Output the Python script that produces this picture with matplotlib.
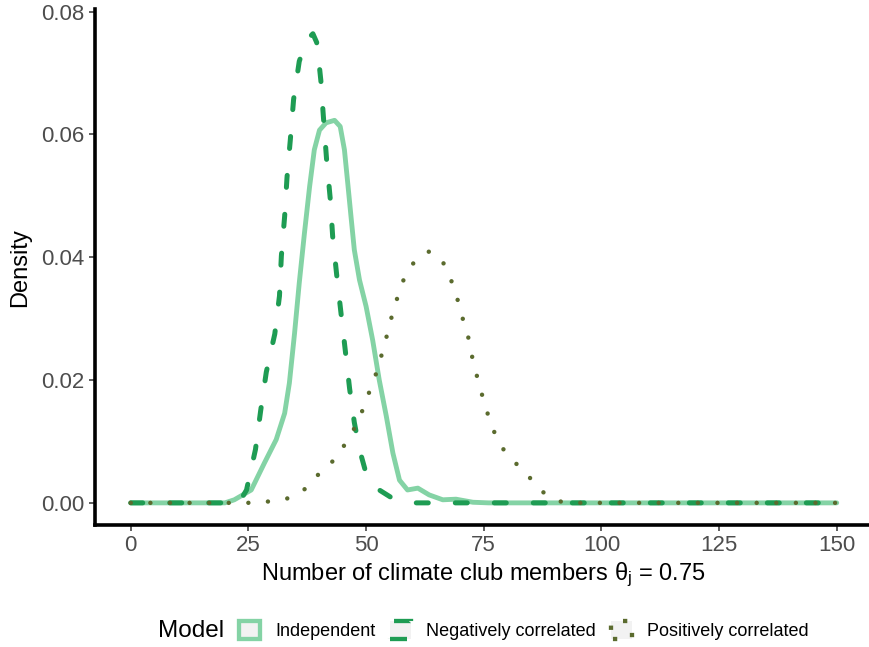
import matplotlib
matplotlib.use("Agg")
import matplotlib.pyplot as plt
from matplotlib.patches import Patch

plt.rcParams['font.family'] = ['Liberation Sans', 'DejaVu Sans']
plt.rcParams['mathtext.fontset'] = 'custom'
plt.rcParams['mathtext.rm'] = 'Liberation Sans'
plt.rcParams['mathtext.it'] = 'Liberation Sans:italic'

# density curves
ind_x = [0, 20, 22.0, 25.6, 28.4, 30.9, 32.7, 33.7, 34.8, 35.8, 36.9, 38.0, 39.0, 40.1,
         41.5, 43.3, 44.5, 45.4, 46.1, 46.8, 47.5, 48.6, 50.0, 51.4, 52.8, 54.3, 55.7,
         57.1, 58.8, 61.0, 63.4, 66.3, 69.1, 72.7, 76, 150]
ind_y = [0, 0, 0.0005, 0.0021, 0.0065, 0.0103, 0.0146, 0.0195, 0.0276, 0.0358, 0.0439,
         0.0515, 0.0575, 0.0607, 0.0619, 0.0623, 0.0613, 0.0575, 0.0521, 0.0466, 0.0412,
         0.0363, 0.032, 0.0265, 0.02, 0.0141, 0.0081, 0.0037, 0.0021, 0.0024, 0.0013,
         0.0005, 0.0006, 0.0001, 0, 0]

neg_x = [0, 23, 24.6, 26.5, 27.6, 28.8, 30.6, 31.6, 32.0, 32.7, 33.2, 33.9, 34.6, 35.8,
         37.3, 38.7, 39.5, 40.1, 40.4, 40.9, 41.6, 42.4, 42.9, 43.8, 44.7, 45.6, 46.5,
         47.5, 48.6, 50.0, 52.8, 55.7, 60.6, 150]
neg_y = [0, 0, 0.0021, 0.0087, 0.015, 0.0213, 0.0275, 0.0337, 0.0402, 0.0467, 0.053,
         0.0591, 0.0657, 0.0719, 0.0753, 0.0764, 0.075, 0.0709, 0.0687, 0.0632, 0.056,
         0.0494, 0.0434, 0.0368, 0.0307, 0.0247, 0.0186, 0.0131, 0.0087, 0.0048, 0.0021,
         0.0007, 0, 0]

pos_x = [0, 22, 24.8, 29.0, 33.2, 36.9, 39.7, 42.8, 45.3, 47.4, 49.2, 50.6, 52.1, 53.3,
         54.4, 55.4, 56.6, 58.0, 60.1, 63.5, 66.4, 68.1, 69.4, 70.5, 71.7, 72.5, 73.5,
         74.6, 75.8, 77.2, 79.2, 82.0, 84.9, 87.7, 91.4, 95, 150]
pos_y = [0, 0, 0, 0.0002, 0.0007, 0.0022, 0.0045, 0.0067, 0.0093, 0.012, 0.015, 0.0179,
         0.021, 0.0241, 0.0272, 0.0302, 0.0333, 0.0364, 0.0391, 0.041, 0.0391, 0.0362,
         0.0332, 0.0301, 0.027, 0.0239, 0.0208, 0.0177, 0.0146, 0.0116, 0.0087, 0.0063,
         0.004, 0.0017, 0.0002, 0, 0]

labels = ['Independent', 'Negatively correlated', 'Positively correlated']
cols = ['#84D3A5', '#1E9C53', '#5B6B2E']

xticks = [0, 25, 50, 75, 100, 125, 150]
yticks = [0.00, 0.02, 0.04, 0.06, 0.08]

fig = plt.figure(figsize=(8.69, 6.47), dpi=100)
ax = fig.add_axes([0.1093, 0.1886, 0.8942, 0.7972])

ax.plot(ind_x, ind_y, color=cols[0], lw=3.5, solid_capstyle='round', solid_joinstyle='round')
ax.plot(neg_x, neg_y, color=cols[1], lw=3.6, linestyle=(0, (2.4, 5.4)),
        dash_capstyle='round', dash_joinstyle='round')
ax.plot(pos_x, pos_y, color=cols[2], lw=3.2, linestyle=(0, (0.01, 4.4)),
        dash_capstyle='round')

ax.set_xlim(-7.6, 157.5)
ax.set_ylim(-0.0036, 0.0804)
ax.set_xticks(xticks)
ax.set_yticks(yticks)
ax.set_xticklabels([str(v) for v in xticks])
ax.set_yticklabels(['%.2f' % v for v in yticks])

for s in ['top', 'right']:
    ax.spines[s].set_visible(False)
for s in ['left', 'bottom']:
    ax.spines[s].set_linewidth(2.6)
ax.tick_params(length=4, width=1.1, color='#333333', labelsize=16,
               labelcolor='#4D4D4D', pad=3.5)

ax.set_ylabel('Density', fontsize=17, labelpad=7)
ax.set_xlabel('Number of climate club members θ$_\\mathregular{j}$ = 0.75', fontsize=17,
              labelpad=3)

kw = dict(facecolor='#F2F2F2', linewidth=3.1, capstyle='butt')
handles = [Patch(edgecolor=cols[0], **kw),
           Patch(edgecolor=cols[1], linestyle=(0, (3.95, 5.1)), **kw),
           Patch(edgecolor=cols[2], linestyle=(4.4, (1.0, 3.85)), **kw)]
fig.legend(handles, labels, loc='center left', bbox_to_anchor=(239 / 869, 0.0255),
           ncol=3, frameon=False, fontsize=13, handlelength=1.15, handleheight=1.15,
           handletextpad=0.85, columnspacing=0.83, borderpad=0, borderaxespad=0)
fig.text(158 / 869, 0.0255, 'Model', fontsize=17.5, ha='left', va='center')

fig.savefig('out.png', dpi=100)
